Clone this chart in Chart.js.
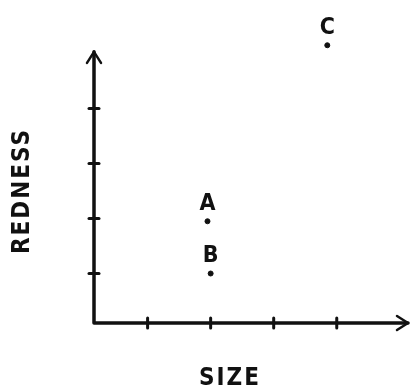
<!DOCTYPE html>
<html>
<head>
<meta charset="utf-8">
<script src="https://cdn.jsdelivr.net/npm/chart.js@4/dist/chart.umd.min.js"></script>
<style>
  html, body { margin: 0; padding: 0; background: #fff; }
  #wrap { width: 413px; height: 390px; }
</style>
</head>
<body>
<div id="wrap"><canvas id="graph"></canvas></div>
<script>
// data
const names = ["A", "B", "C"];
const sizes = [1.95, 2.0, 3.85];
const redness = [1.95, 1.0, 5.15];
const xTicks = [1, 2, 3, 4];
const yTicks = [1, 2, 3, 4];
const xTitle = "SIZE";
const yTitle = "REDNESS";

const ink = "#111";
const hand = "'DejaVu Sans Condensed', 'DejaVu Sans', sans-serif";
const xEnd = 5.13, yEnd = 5.03;

// axes with crossing ticks and arrowheads, point labels, axis titles
const sketch = {
  id: "sketch",
  beforeDatasetsDraw(chart) {
    const { ctx, scales: { x, y } } = chart;
    const x0 = x.getPixelForValue(x.min), y0 = y.getPixelForValue(y.min);
    const x1 = x.getPixelForValue(xEnd), y1 = y.getPixelForValue(yEnd);
    ctx.save();
    ctx.strokeStyle = ink;
    ctx.lineWidth = 3.5;
    ctx.lineCap = "round";
    ctx.lineJoin = "round";
    ctx.beginPath();
    ctx.moveTo(x0, y1);
    ctx.lineTo(x0, y0);
    ctx.lineTo(x1, y0);
    ctx.stroke();

    ctx.lineWidth = 3;
    xTicks.forEach(v => {
      const px = x.getPixelForValue(v);
      ctx.beginPath();
      ctx.moveTo(px, y0 - 5);
      ctx.lineTo(px, y0 + 5);
      ctx.stroke();
    });
    yTicks.forEach(v => {
      const py = y.getPixelForValue(v);
      ctx.beginPath();
      ctx.moveTo(x0 - 5, py);
      ctx.lineTo(x0 + 5, py);
      ctx.stroke();
    });

    ctx.lineWidth = 2.5;
    ctx.beginPath();
    ctx.moveTo(x0 - 7, y1 + 11);
    ctx.lineTo(x0, y1);
    ctx.lineTo(x0 + 7, y1 + 11);
    ctx.moveTo(x1 - 11, y0 - 7);
    ctx.lineTo(x1, y0);
    ctx.lineTo(x1 - 11, y0 + 7);
    ctx.stroke();
    ctx.restore();
  },
  afterDatasetsDraw(chart) {
    const { ctx } = chart;
    ctx.save();
    ctx.fillStyle = ink;
    ctx.textAlign = "center";
    ctx.textBaseline = "middle";
    ctx.font = "bold 23px " + hand;
    chart.getDatasetMeta(0).data.forEach((pt, i) => {
      ctx.fillText(names[i], pt.x, pt.y - 17);
    });

    ctx.font = "bold 24px " + hand;
    ctx.letterSpacing = "2px";
    ctx.fillText(xTitle, 230, 379);
    ctx.translate(23, 191);
    ctx.rotate(-Math.PI / 2);
    ctx.fillText(yTitle, 0, 0);
    ctx.restore();
  }
};

new Chart(document.querySelector("#graph"), {
  type: "scatter",
  data: {
    datasets: [{
      data: sizes.map((s, i) => ({ x: s, y: redness[i] })),
      backgroundColor: ink,
      borderColor: ink,
      pointRadius: 2.5,
      clip: false
    }]
  },
  options: {
    responsive: true,
    maintainAspectRatio: false,
    animation: false,
    layout: { padding: { left: 94, right: 5, top: 37, bottom: 67 } },
    plugins: { legend: { display: false }, tooltip: { enabled: false } },
    scales: {
      x: {
        type: "linear",
        min: 0.15,
        max: xEnd,
        ticks: { display: false },
        grid: { display: false, drawTicks: false },
        border: { display: false }
      },
      y: {
        type: "linear",
        min: 0.1,
        max: 5.3,
        ticks: { display: false },
        grid: { display: false, drawTicks: false },
        border: { display: false }
      }
    }
  },
  plugins: [sketch]
});
</script>
</body>
</html>
